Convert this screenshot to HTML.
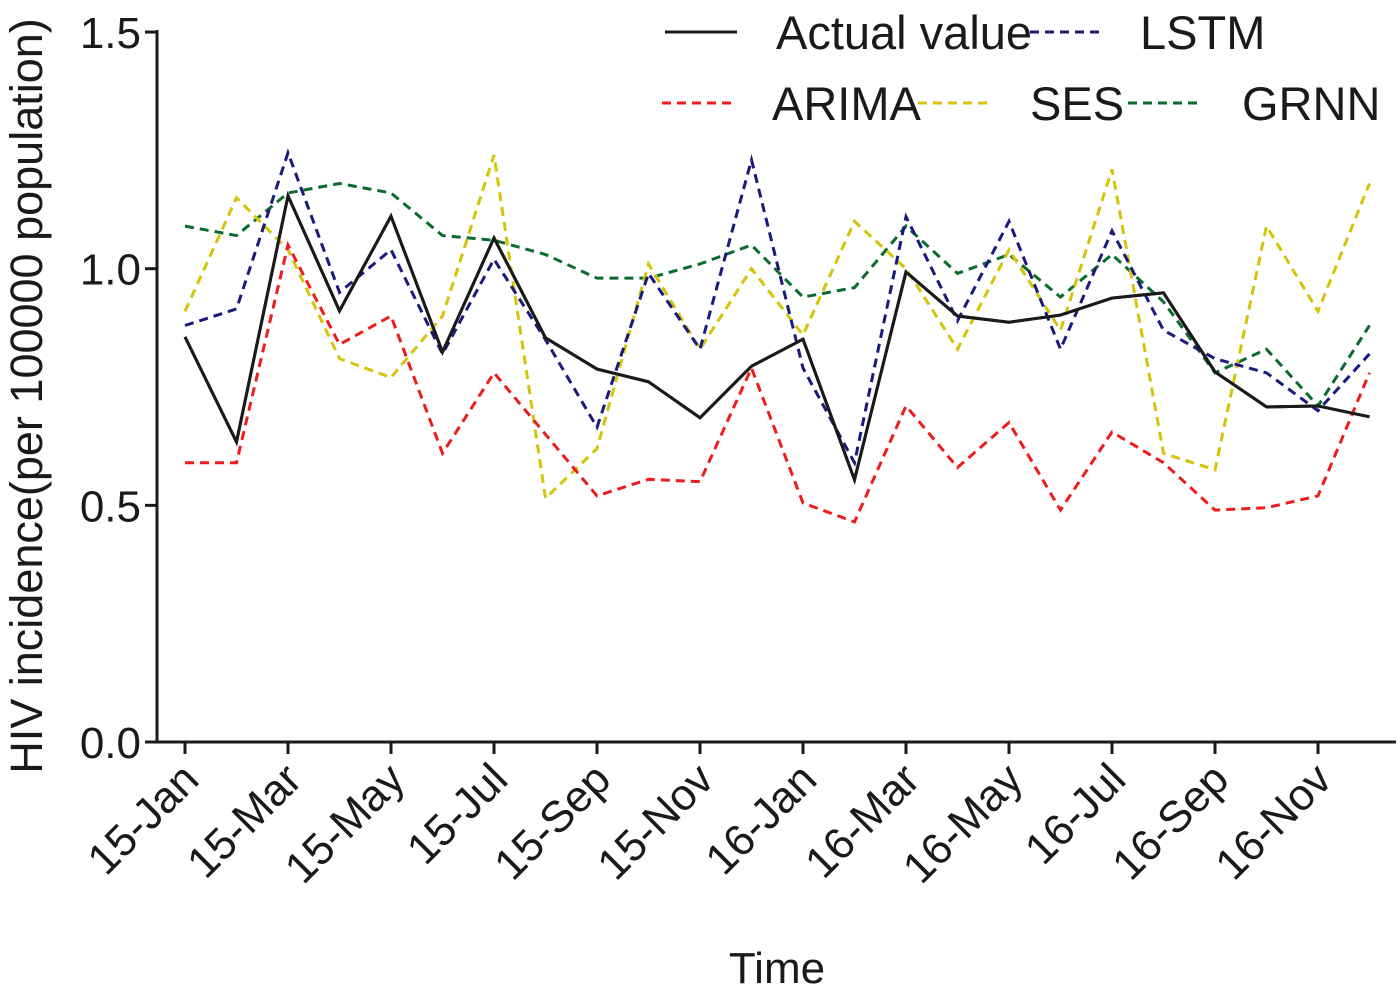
<!DOCTYPE html>
<html><head><meta charset="utf-8"><style>
html,body{margin:0;padding:0;background:#fff;}
svg text{font-family:"Liberation Sans",Arial,sans-serif;fill:#1a1a1a;}
</style></head><body>
<svg id="chart" width="1400" height="988" viewBox="0 0 1400 988" xmlns="http://www.w3.org/2000/svg">
<g id="plot"></g>
</svg>
<script>
const months = ["15-Jan","15-Feb","15-Mar","15-Apr","15-May","15-Jun","15-Jul","15-Aug","15-Sep","15-Oct","15-Nov","15-Dec","16-Jan","16-Feb","16-Mar","16-Apr","16-May","16-Jun","16-Jul","16-Aug","16-Sep","16-Oct","16-Nov","16-Dec"];
const actual = [0.856,0.634,1.154,0.911,1.111,0.824,1.065,0.854,0.788,0.761,0.685,0.794,0.851,0.554,0.993,0.900,0.887,0.902,0.938,0.949,0.782,0.708,0.710,0.687];
const lstm = [0.88,0.915,1.245,0.95,1.04,0.82,1.02,0.85,0.665,0.99,0.83,1.23,0.79,0.59,1.11,0.89,1.10,0.83,1.08,0.87,0.81,0.78,0.70,0.82];
const arima = [0.59,0.59,1.05,0.84,0.90,0.61,0.78,0.65,0.52,0.555,0.55,0.79,0.505,0.465,0.71,0.58,0.675,0.49,0.655,0.59,0.49,0.495,0.52,0.78];
const ses = [0.91,1.15,1.04,0.81,0.77,0.90,1.24,0.515,0.62,1.01,0.83,1.00,0.86,1.10,1.00,0.83,1.04,0.87,1.21,0.61,0.575,1.09,0.91,1.18];
const grnn = [1.09,1.07,1.16,1.18,1.16,1.07,1.06,1.03,0.98,0.98,1.01,1.05,0.94,0.96,1.09,0.99,1.03,0.94,1.03,0.93,0.78,0.83,0.71,0.88];
const yTicks = [0.0,0.5,1.0,1.5];
const yTickLabels = ["0.0","0.5","1.0","1.5"];

const NS="http://www.w3.org/2000/svg";
const g=document.getElementById('plot');
const X0=185, DX=51.5, Y0=742, YS=473.3;
const xs=i=>X0+i*DX;
const ys=v=>Y0-v*YS;
function mk(t,a){const e=document.createElementNS(NS,t);for(const k in a)e.setAttribute(k,a[k]);g.appendChild(e);return e;}

let ax=mk('line',{x1:157,y1:30,x2:157,y2:743,stroke:'#1a1a1a','stroke-width':3});


ax=mk('line',{x1:156,y1:742,x2:1396,y2:742,stroke:'#1a1a1a','stroke-width':3});



yTicks.forEach((v,i)=>{
  const t=mk('line',{x1:145,y1:ys(v),x2:157,y2:ys(v),stroke:'#1a1a1a','stroke-width':3});
  
  
  const l=mk('text',{x:141,y:ys(v)+16,'text-anchor':'end','font-size':44});
  l.textContent=yTickLabels[i];
  
  
});
months.forEach((m,i)=>{
  if(i%2) return;
  const t=mk('line',{x1:xs(i),y1:742,x2:xs(i),y2:754,stroke:'#1a1a1a','stroke-width':3});
  
  
  const l=mk('text',{x:xs(i)+16,y:782,'text-anchor':'end','font-size':44,transform:`rotate(-45 ${xs(i)+16} 782)`});
  l.textContent=m;
  
  
});

const series=[
  {name:'actual-value-line',data:actual,color:'#1a1a1a',dash:''},
  {name:'grnn-line',data:grnn,color:'#0b6b2e',dash:'9 6'},
  {name:'ses-line',data:ses,color:'#d4c40a',dash:'9 6'},
  {name:'arima-line',data:arima,color:'#ee1c1c',dash:'9 6'},
  {name:'lstm-line',data:lstm,color:'#1a1a7e',dash:'9 6'}
];
series.forEach(s=>{
  const p=mk('polyline',{points:s.data.map((v,i)=>xs(i)+','+ys(v)).join(' '),fill:'none',stroke:s.color,'stroke-width':3,'stroke-dasharray':s.dash});
  
  
});
const actualTop=mk('polyline',{points:actual.map((v,i)=>xs(i)+','+ys(v)).join(' '),fill:'none',stroke:'#1a1a1a','stroke-width':3});



const legend=[
  {label:'Actual value',x1:665,x2:737,tx:776,y:32,color:'#1a1a1a',dash:''},
  {label:'LSTM',x1:1030,x2:1102,tx:1140,y:32,color:'#1a1a7e',dash:'9 6'},
  {label:'ARIMA',x1:662,x2:737,tx:772,y:103,color:'#ee1c1c',dash:'9 6'},
  {label:'SES',x1:918,x2:990,tx:1030,y:103,color:'#d4c40a',dash:'9 6'},
  {label:'GRNN',x1:1128,x2:1200,tx:1242,y:103,color:'#0b6b2e',dash:'9 6'}
];
legend.forEach(e=>{
  const l=mk('line',{x1:e.x1,y1:e.y,x2:e.x2,y2:e.y,stroke:e.color,'stroke-width':3,'stroke-dasharray':e.dash});
  
  
  const t=mk('text',{x:e.tx,y:e.y+17,'font-size':47});
  t.textContent=e.label;
  
  
});

const xt=mk('text',{x:777,y:983,'text-anchor':'middle','font-size':44});
xt.textContent='Time';


const yt=mk('text',{x:42,y:396,'text-anchor':'middle','font-size':45,transform:'rotate(-90 42 396)'});
yt.textContent='HIV incidence(per 100000 population)';


</script>
</body></html>
